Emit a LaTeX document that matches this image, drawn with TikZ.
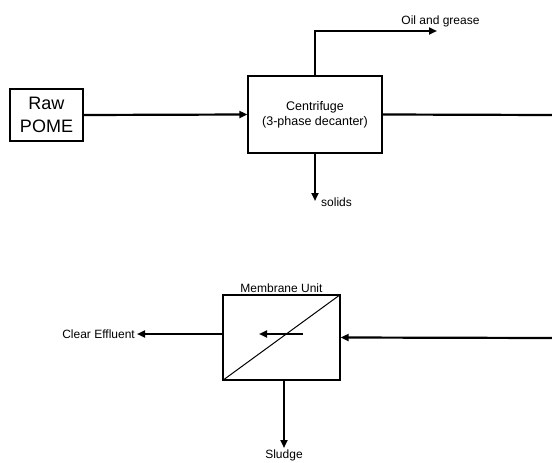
\documentclass[tikz,border=0pt]{standalone}
\usepackage{fontspec}
\setmainfont{Liberation Sans}
\usetikzlibrary{arrows.meta, positioning}

\begin{document}
\begin{tikzpicture}[x=1pt, y=-1pt,
    unit/.style={draw, line width=1.3pt, inner sep=0pt, align=center, font=\fontsize{12.5}{15}\selectfont},
    flow/.style={line width=2.2pt, -{Triangle[length=8pt, width=7pt]}},
    pipe/.style={line width=2.2pt},
    lbl/.style={inner sep=2pt, font=\fontsize{12}{14}\selectfont}]
  \useasboundingbox (0, 0) rectangle (552, 463);
  % units
  \node[unit, minimum width=73pt, minimum height=52pt, font=\fontsize{18}{23}\selectfont] (raw) at (46.5, 115) {Raw\\POME};
  \node[unit, minimum width=134pt, minimum height=77pt] (cent) at (315, 114.5) {Centrifuge\\(3-phase decanter)};
  \node[unit, minimum width=117pt, minimum height=85pt] (memb) at (281.5, 337.5) {};
  \draw[line width=1pt] (memb.south west) -- (memb.north east);
  \node[lbl, above=0pt of memb] (membname) {Membrane Unit};
  % free ends
  \coordinate (centout) at (552, 115);
  \coordinate (membin) at (552, 338);
  \coordinate (oilend) at (437, 31);
  \coordinate (solidsend) at (315, 201);
  \coordinate (effend) at (137, 334);
  \coordinate (sludgeend) at (284, 448);
  % streams
  \draw[flow] (raw.east) -- (cent.west);
  \draw[pipe] (cent.east) -- (centout);
  \draw[flow] (cent.north) |- (oilend);
  \draw[flow] (cent.south) -- (solidsend);
  \draw[flow] (membin) -- (memb.east);
  \draw[flow] ([yshift=3.5pt]memb.west) -- (effend);
  \draw[flow] ([xshift=21.5pt, yshift=3.5pt]memb.center) -- ([xshift=-22.5pt, yshift=3.5pt]memb.center);
  \draw[flow] ([xshift=2.5pt]memb.south) -- (sludgeend);
  % labels
  \node[lbl] (oil) at (440.5, 21) {Oil and grease};
  \node[lbl, anchor=west] (solids) at (319, 202) {solids};
  \node[lbl, anchor=east] (eff) at (effend) {Clear Effluent};
  \node[lbl, anchor=north, inner sep=0.5pt] (sludge) at (284, 449.5) {Sludge};
\end{tikzpicture}
\end{document}
